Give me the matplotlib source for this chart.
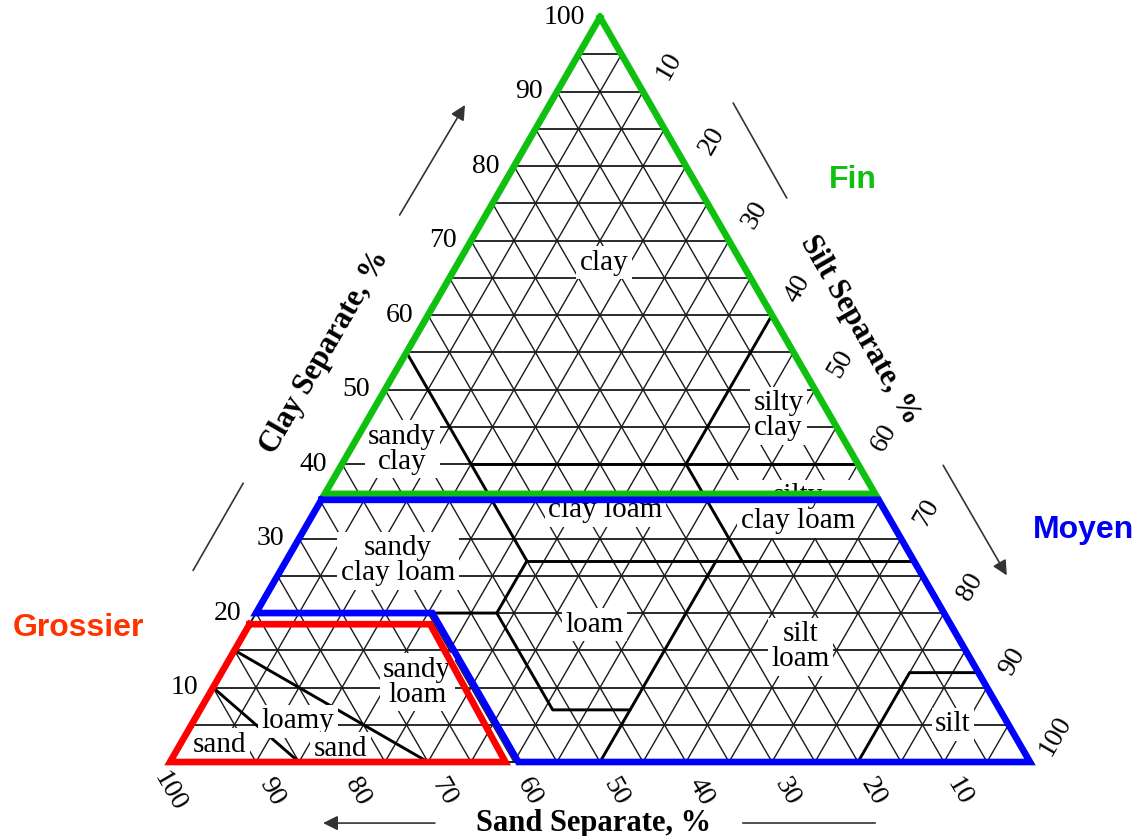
import numpy as np
import matplotlib
matplotlib.use("Agg")
import matplotlib.pyplot as plt

SERIF = "Liberation Serif"
SANS = "Liberation Sans"
H = np.sqrt(3) / 2
INK = "#1a1a1a"

# USDA texture class boundaries, vertices as (sand, silt, clay) %
boundaries = [
    [(45, 15, 40), (20, 40, 40), (0, 60, 40)],
    [(45, 0, 55), (45, 28, 27)],
    [(0, 40, 60), (20, 40, 40), (20, 53, 27)],
    [(65, 0, 35), (45, 20, 35)],
    [(45, 28, 27), (0, 73, 27)],
    [(45, 28, 27), (52, 28, 20), (80, 0, 20)],
    [(52, 28, 20), (52, 41, 7), (43, 50, 7), (23, 50, 27)],
    [(43, 50, 7), (50, 50, 0)],
    [(20, 80, 0), (8, 80, 12), (0, 88, 12)],
    [(70, 30, 0), (85, 0, 15)],
    [(85, 15, 0), (90, 0, 10)],
]

class_names = ["clay", "sandy\nclay", "silty\nclay", "silty\nclay loam", "clay loam",
               "sandy\nclay loam", "loam", "silt\nloam", "sandy\nloam", "loamy",
               "sand", "sand", "silt"]
# where each class name sits, (sand, silt, clay)
class_at = [(16, 17, 67), (52, 6, 42), (6, 47.5, 46.5), (10, 56, 34), (32.5, 33.7, 33.8),
            (60, 13, 27), (41.4, 40.2, 18.4), (18.9, 65.6, 15.5), (65.9, 23.4, 10.7),
            (82.4, 12.1, 5.5), (79.3, 18.9, 1.8), (93, 4.65, 2.3), (6.4, 88.5, 5.1)]

# coarse / medium / fine groupings drawn over the chart
zone_names = ["Fin", "Moyen", "Grossier"]
zone_colors = ["#10c010", "#0000ff", "#ff0000"]
zone_text_colors = ["#10c010", "#0000f0", "#ff3300"]
zone_vertices = [
    [(0, 0, 100), (64, 0, 36), (0, 64, 36)],
    [(64.8, 0, 35.2), (0, 64.8, 35.2), (0, 100, 0), (59.5, 40.5, 0), (59.5, 20.5, 20), (80, 0, 20)],
    [(81.5, 0, 18.5), (60.5, 21, 18.5), (61, 39, 0), (100, 0, 0)],
]
zone_label_uv = [(79.4, 67.7), (106.2, 27.0), (-10.7, 15.6)]

ticks = list(range(10, 101, 10))
grid_steps = list(range(5, 100, 5))


def xy(sand, silt, clay):
    return silt + clay / 2, clay * H


def path(pts):
    p = np.array([xy(*t) for t in pts])
    return p[:, 0], p[:, 1]


fig = plt.figure(figsize=(11.4, 8.36), dpi=100)
ax = fig.add_axes([0, 0, 1, 1])
ax.set_xlim(-170 / 8.6, 970 / 8.6)
ax.set_ylim(-74 / 8.6, 762 / 8.6)
ax.axis("off")

# grid
for k in grid_steps:
    x, y = path([(100 - k, 0, k), (0, 100 - k, k)])
    ax.plot(x, y, color=INK, lw=1.3, zorder=1)
    x, y = path([(100 - k, k, 0), (0, k, 100 - k)])
    ax.plot(x, y, color=INK, lw=1.0, zorder=1)
    x, y = path([(k, 100 - k, 0), (k, 0, 100 - k)])
    ax.plot(x, y, color=INK, lw=1.0, zorder=1)
x, y = path([(100, 0, 0), (0, 100, 0), (0, 0, 100), (100, 0, 0)])
ax.plot(x, y, color=INK, lw=1.4, zorder=1)

for line in boundaries:
    x, y = path(line)
    ax.plot(x, y, color="black", lw=2.1, zorder=2, solid_capstyle="round")

for name, at in zip(class_names, class_at):
    ax.text(*xy(*at), name, family=SERIF, fontsize=21, ha="center", va="center",
            linespacing=0.95, zorder=3,
            bbox=dict(boxstyle="square,pad=0.12", fc="white", ec="none"))

# tick labels
for c in ticks:
    u, v = xy(100 - c, 0, c)
    ax.text(u - 1.7, v, str(c), family=SERIF, fontsize=20, ha="right", va="center")
for s in ticks:
    u, v = xy(0, s, 100 - s)
    ax.text(u + 3.0, v + 3.0, str(s), family=SERIF, fontsize=20, ha="center", va="center",
            rotation=60, rotation_mode="anchor")
for d in ticks:
    u, v = xy(d, 100 - d, 0)
    shift = 0.0 if d == 100 else 1.8
    ax.text(u + shift, v - 3.5, str(d), family=SERIF, fontsize=20, ha="center", va="center",
            rotation=-60, rotation_mode="anchor")

# axis titles and direction arrows
ax.text(18.0, 47.7, "Clay Separate, %", family=SERIF, weight="bold", fontsize=22,
        rotation=60, ha="center", va="center", rotation_mode="anchor")
ax.text(80.2, 50.2, "Silt Separate, %", family=SERIF, weight="bold", fontsize=22,
        rotation=-60, ha="center", va="center", rotation_mode="anchor")
ax.text(49.3, -7.1, "Sand Separate, %", family=SERIF, weight="bold", fontsize=22,
        ha="center", va="center")

arrow = dict(arrowstyle="-|>", color="#333333", lw=1.2, mutation_scale=22, shrinkA=0, shrinkB=0)
for a, b in [((26.7, 63.6), (34.3, 76.4)), ((89.9, 34.5), (97.3, 21.7)), ((30.8, -7.1), (17.8, -7.1))]:
    ax.annotate("", xy=b, xytext=a, arrowprops=arrow)
for a, b in [((8.5, 32.4), (2.7, 22.3)), ((65.5, 76.6), (71.7, 65.6)), ((66.6, -7.1), (82.0, -7.1))]:
    ax.plot([a[0], b[0]], [a[1], b[1]], color="#333333", lw=1.2)

# zone outlines
for name, col, tcol, verts, (lu, lv) in zip(zone_names, zone_colors, zone_text_colors,
                                            zone_vertices, zone_label_uv):
    x, y = path(verts + verts[:1])
    ax.plot(x, y, color=col, lw=4.8, zorder=5, solid_joinstyle="miter")
    ax.text(lu, lv, name, family=SANS, weight="bold", fontsize=23, color=tcol,
            ha="center", va="center")

fig.savefig("out.png", dpi=100)
